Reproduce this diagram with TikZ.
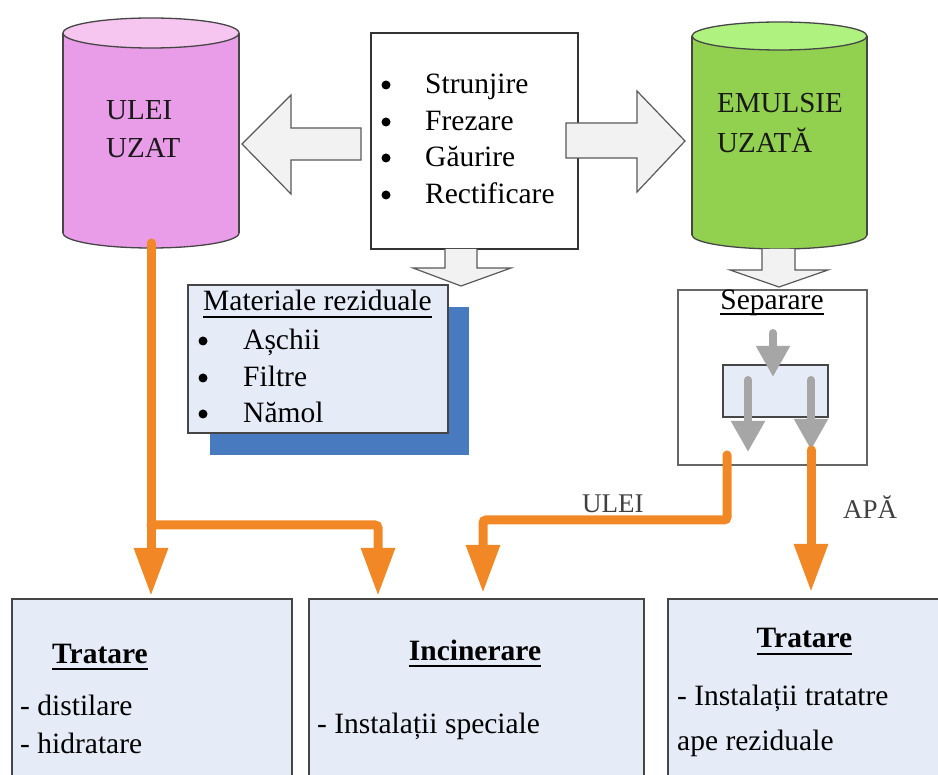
\documentclass[tikz,border=0pt]{standalone}
\usepackage{fontspec}
\setmainfont{Liberation Serif}
\usetikzlibrary{arrows.meta}
\definecolor{pinkbody}{RGB}{233,156,232}
\definecolor{pinktop}{RGB}{246,198,240}
\definecolor{greenbody}{RGB}{146,208,80}
\definecolor{greentop}{RGB}{176,242,128}
\definecolor{lightbg}{RGB}{230,236,247}
\definecolor{shadowblue}{RGB}{72,122,192}
\definecolor{arrowfill}{RGB}{242,242,242}
\definecolor{orangeline}{RGB}{242,135,38}
\definecolor{sepgray}{RGB}{166,166,166}
\definecolor{edgegray}{RGB}{70,70,70}
\tikzset{
  txt/.style={inner sep=0pt, anchor=base west, font=\fontsize{29.5}{37}\selectfont},
  cyltxt/.style={inner sep=0pt, anchor=base west, text=black!90, font=\fontsize{29}{38}\selectfont},
  bulletdot/.style={circle, fill=black, inner sep=0pt, minimum size=9pt},
  cylline/.style={draw=edgegray, line width=1.3pt},
  bigarrow/.style={fill=arrowfill, draw=black!65, line width=1.2pt},
  flowline/.style={draw=orangeline, line width=9pt, line cap=round, rounded corners=3pt,
    -{Triangle[length=48pt,width=32pt]}},
  sepline/.style={draw=sepgray, line width=8pt, line cap=round,
    -{Triangle[length=31pt,width=32pt]}},
  boxstyle/.style={fill=lightbg, draw=edgegray, line width=2pt},
  uline/.style={line width=1.8pt},
}
\begin{document}
\begin{tikzpicture}[x=1pt,y=-1pt]
\useasboundingbox (0,0) rectangle (938,775);
\clip (0,0) rectangle (938,775);

% ---- left cylinder (ULEI UZAT)
\filldraw[fill=pinkbody, cylline] (151,233) ellipse [x radius=88, y radius=15];
\fill[pinkbody] (63,33) rectangle (239,233);
\draw[cylline] (63,33) -- (63,233) (239,33) -- (239,233);
\filldraw[fill=pinktop, cylline] (151,33) ellipse [x radius=88, y radius=15];
\node[cyltxt] (ulei1) at (106,120) {ULEI};
\node[cyltxt] (ulei2) at (106,158) {UZAT};
\coordinate (uleibot) at (151,243);

% ---- right cylinder (EMULSIE UZATA)
\filldraw[fill=greenbody, cylline] (779.5,235) ellipse [x radius=87.5, y radius=14];
\fill[greenbody] (692,36) rectangle (867,235);
\draw[cylline] (692,36) -- (692,235) (867,36) -- (867,235);
\filldraw[fill=greentop, cylline] (779.5,36) ellipse [x radius=87.5, y radius=14];
\node[cyltxt] (emul1) at (717,113) {EMULSIE};
\node[cyltxt] (emul2) at (717,153) {UZATĂ};

% ---- process box
\node[draw=black!80, line width=1.4pt, fill=white, minimum width=207pt, minimum height=216pt,
      inner sep=0pt] (proc) at (474.5,141) {};
\foreach \t/\yy/\nm in {Strunjire/94/p1, Frezare/131/p2, Găurire/167/p3, Rectificare/204/p4}{
  \node[bulletdot] (\nm b) at (386,\yy-9) {};
  \node[txt] (\nm) at (425,\yy) {\t};
}

% ---- big arrows
\draw[bigarrow] (361,128) -- (291,128) -- (291,95) -- (242,144) -- (291,194) -- (291,160) -- (361,160) -- cycle;
\draw[bigarrow] (566,123) -- (637,123) -- (637,91) -- (685,141) -- (637,192) -- (637,158) -- (566,158) -- cycle;
\draw[bigarrow] (445,249) -- (445,268) -- (413,268) -- (461,286) -- (511,268) -- (477,268) -- (477,249);
\draw[bigarrow] (762,249) -- (762,270) -- (730,270) -- (779,287) -- (828,270) -- (795,270) -- (795,249);

% ---- Materiale reziduale
\fill[shadowblue] (210,307) rectangle (469,455);
\node[boxstyle, minimum width=260pt, minimum height=148pt, inner sep=0pt] (mat) at (318,359) {};
\node[txt] (mattitle) at (203,311) {Materiale reziduale};
\draw[uline] ([yshift=-6pt]mattitle.base west) -- ([yshift=-6pt]mattitle.base east);
\foreach \t/\yy/\nm in {Așchii/350/m1, Filtre/387/m2, Nămol/423/m3}{
  \node[bulletdot] (\nm b) at (203,\yy-9) {};
  \node[txt] (\nm) at (243,\yy) {\t};
}

% ---- Separare box
\node[draw=black!60, line width=1.5pt, fill=white, minimum width=189pt, minimum height=175pt,
      inner sep=0pt] (sep) at (772.5,377.5) {};
\node[txt, anchor=base] (septitle) at (772,310) {Separare};
\draw[uline] ([yshift=-4pt]septitle.base west) -- ([yshift=-4pt]septitle.base east);
\node[fill=lightbg, draw=edgegray, line width=1.6pt, minimum width=105pt, minimum height=52pt,
      inner sep=0pt] (inner) at (775.5,391) {};
\coordinate (sin) at (773,333);
\coordinate (sintip) at (773,377);
\coordinate (sl0) at (748,380);
\coordinate (sl1) at (748,452);
\coordinate (sr0) at (811,380);
\coordinate (sr1) at (811,450);
\draw[sepline] (sin) -- (sintip);
\draw[sepline] (sl0) -- (sl1);
\draw[sepline] (sr0) -- (sr1);

% ---- bottom boxes
\node[boxstyle, minimum width=280pt, minimum height=200pt, inner sep=0pt, anchor=north west] (b1) at (11,598) {};
\node[boxstyle, minimum width=335pt, minimum height=200pt, inner sep=0pt, anchor=north west] (b2) at (308,598) {};
\node[boxstyle, minimum width=290pt, minimum height=200pt, inner sep=0pt, anchor=north west] (b3) at (667,598) {};

\node[txt, font=\fontsize{29.5}{37}\selectfont\bfseries] (t1) at (52,663) {Tratare};
\draw[uline] ([yshift=-6pt]t1.base west) -- ([yshift=-6pt]t1.base east);
\node[txt] (t1a) at (20,715) {- distilare};
\node[txt] (t1b) at (20,753) {- hidratare};

\node[txt, anchor=base, font=\fontsize{29.5}{37}\selectfont\bfseries] (t2) at (475,660) {Incinerare};
\draw[uline] ([yshift=-6pt]t2.base west) -- ([yshift=-6pt]t2.base east);
\node[txt] (t2a) at (317,733) {- Instalații speciale};

\node[txt, anchor=base, font=\fontsize{29.5}{37}\selectfont\bfseries] (t3) at (804.5,648) {Tratare};
\draw[uline] ([yshift=-6pt]t3.base west) -- ([yshift=-6pt]t3.base east);
\node[txt] (t3a) at (677,705) {- Instalații tratatre};
\node[txt] (t3b) at (677,750) {ape reziduale};

% ---- orange flow lines
\coordinate (j1) at (151,525);
\coordinate (c1) at (378,525);
\coordinate (e1) at (151,596);
\coordinate (e2) at (378,596);
\draw[flowline] (uleibot) -- (e1);
\draw[flowline] (j1) -- (c1) -- (e2);
\coordinate (so1) at (727,455);
\coordinate (k1) at (727,520);
\coordinate (k2) at (483,520);
\coordinate (e3) at (483,593);
\draw[flowline] (so1) -- (k1) -- (k2) -- (e3);
\coordinate (e4) at (811,592);
\draw[flowline] (sr1) -- (e4);

% ---- labels
\node[txt, font=\fontsize{27}{32}\selectfont, text=black!75] (lulei) at (582,513) {ULEI};
\node[txt, font=\fontsize{27}{32}\selectfont, text=black!75] (lapa) at (843,519) {APĂ};
\end{tikzpicture}
\end{document}
